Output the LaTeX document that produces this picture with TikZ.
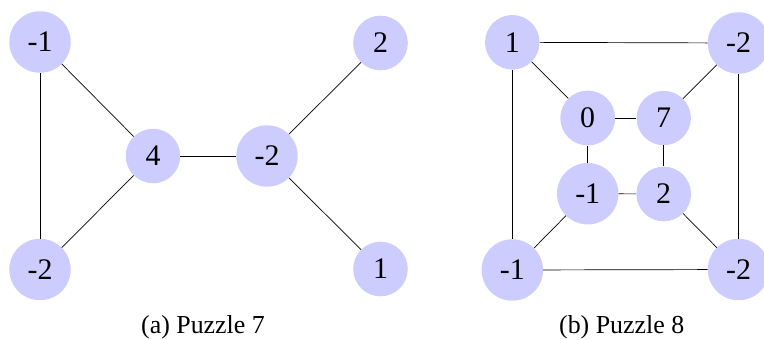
\documentclass[tikz,border=0pt]{standalone}
\usepackage{fontspec}
\setmainfont{Liberation Serif}
\definecolor{nodefill}{RGB}{204,204,255}
\tikzset{
  vtx/.style={circle, fill=nodefill, inner sep=10.6bp, font=\rmfamily\fontsize{30}{36}\selectfont},
  edge/.style={draw=black, line width=0.7pt},
  captext/.style={anchor=base, font=\rmfamily\fontsize{26}{31}\selectfont}
}
\begin{document}
\begin{tikzpicture}[x=1bp, y=-1bp]
\useasboundingbox (0,0) rectangle (764,339);
% Puzzle 7
\node[vtx] (a1) at (40,42) {-1};
\node[vtx] (a2) at (153,156) {4};
\node[vtx] (a3) at (40,269.5) {-2};
\node[vtx] (a4) at (267,156) {-2};
\node[vtx] (a5) at (380.5,43) {2};
\node[vtx] (a6) at (380.5,269) {1};
\draw[edge] (a1) -- (a2);
\draw[edge] (a1) -- (a3);
\draw[edge] (a3) -- (a2);
\draw[edge] (a2) -- (a4);
\draw[edge] (a4) -- (a5);
\draw[edge] (a4) -- (a6);
\node[captext] (capa) at (203,333) {(a) Puzzle 7};
% Puzzle 8
\node[vtx] (b1) at (512.3,42.3) {1};
\node[vtx] (b2) at (738.5,43) {-2};
\node[vtx] (b3) at (587.7,118) {0};
\node[vtx] (b4) at (663.7,118) {7};
\node[vtx] (b5) at (587.7,193.7) {-1};
\node[vtx] (b6) at (663.7,194) {2};
\node[vtx] (b7) at (512.3,270) {-1};
\node[vtx] (b8) at (738.5,269.5) {-2};
\draw[edge] (b1) -- (b2);
\draw[edge] (b1) -- (b7);
\draw[edge] (b1) -- (b3);
\draw[edge] (b2) -- (b4);
\draw[edge] (b2) -- (b8);
\draw[edge] (b3) -- (b4);
\draw[edge] (b3) -- (b5);
\draw[edge] (b4) -- (b6);
\draw[edge] (b5) -- (b6);
\draw[edge] (b5) -- (b7);
\draw[edge] (b6) -- (b8);
\draw[edge] (b7) -- (b8);
\node[captext] (capb) at (621.7,333) {(b) Puzzle 8};
\end{tikzpicture}
\end{document}
